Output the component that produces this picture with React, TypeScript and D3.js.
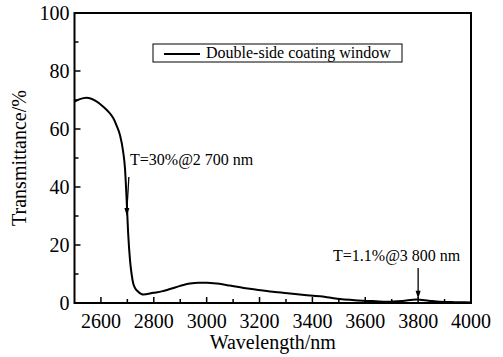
import React from "react";
import * as d3 from "d3";

const wavelength = [2500, 2520, 2546, 2580, 2609, 2630, 2647, 2660, 2672, 2684, 2691, 2697, 2703, 2710, 2716, 2722, 2730, 2741, 2760, 2798, 2830, 2861, 2900, 2937, 2970, 3000, 3040, 3088, 3140, 3189, 3250, 3315, 3370, 3428, 3470, 3504, 3550, 3591, 3640, 3680, 3740, 3794, 3840, 3882, 3940, 4000];
const transmittance = [69.4, 70.3, 70.8, 69.7, 67.7, 65.8, 63.7, 61.0, 57.9, 52.2, 46.4, 36, 24, 14.8, 10, 6.8, 5.0, 3.9, 2.9, 3.5, 4.0, 4.8, 5.9, 6.7, 7.0, 7.0, 6.7, 6.0, 5.2, 4.6, 3.9, 3.3, 2.8, 2.3, 1.8, 1.4, 1.05, 0.8, 0.6, 0.45, 0.7, 1.2, 0.8, 0.45, 0.3, 0.2];
const xMajorTicks = [2600, 2800, 3000, 3200, 3400, 3600, 3800, 4000];
const xMinorTicks = [2700, 2900, 3100, 3300, 3500, 3700, 3900];
const yMajorTicks = [0, 20, 40, 60, 80, 100];
const yMinorTicks = [10, 30, 50, 70, 90];
const legendLabel = "Double-side coating window";
const xTitle = "Wavelength/nm";
const yTitle = "Transmittance/%";
const annotations = [
  { text: "T=30%@2 700 nm", wl: 2700, t: 30 },
  { text: "T=1.1%@3 800 nm", wl: 3800, t: 1.1 },
];

const W = 503, H = 357;
const L = 74.5, R = 471, T = 13, B = 303;
const font = "'Liberation Serif', 'Times New Roman', serif";

export default function App() {
  const x = d3.scaleLinear().domain([2500, 4000]).range([L, R]);
  const y = d3.scaleLinear().domain([0, 100]).range([B, T]);
  const pts = wavelength.map((w, i) => [w, transmittance[i]] as [number, number]);
  const line = d3.line<[number, number]>().x(d => x(d[0])).y(d => y(d[1])).curve(d3.curveMonotoneX);

  return (
    <svg width={W} height={H} style={{ position: "absolute", left: 0, top: 0, background: "#fff" }} fontFamily={font}>
      <rect x={0} y={0} width={W} height={H} fill="#fff" />
      <path d={line(pts) || ""} fill="none" stroke="#000" strokeWidth={2} />
      <rect x={L} y={T} width={R - L} height={B - T} fill="none" stroke="#000" strokeWidth={2} />
      {yMajorTicks.map(v => (
        <g key={"ym" + v}>
          <line x1={L} x2={L + 6} y1={y(v)} y2={y(v)} stroke="#000" strokeWidth={1.5} />
          <text x={L - 5} y={y(v) + 7} textAnchor="end" fontSize={20}>{v}</text>
        </g>
      ))}
      {yMinorTicks.map(v => (
        <line key={"yn" + v} x1={L} x2={L + 4} y1={y(v)} y2={y(v)} stroke="#000" strokeWidth={1.5} />
      ))}
      {xMajorTicks.map(v => (
        <g key={"xm" + v}>
          <line x1={x(v)} x2={x(v)} y1={B} y2={B - 6} stroke="#000" strokeWidth={1.5} />
          <text x={x(v)} y={B + 25} textAnchor="middle" fontSize={20}>{v}</text>
        </g>
      ))}
      {xMinorTicks.map(v => (
        <line key={"xn" + v} x1={x(v)} x2={x(v)} y1={B} y2={B - 4} stroke="#000" strokeWidth={1.5} />
      ))}
      <text x={(L + R) / 2} y={349} textAnchor="middle" fontSize={20}>{xTitle}</text>
      <text transform={`translate(26,${(T + B) / 2}) rotate(-90)`} textAnchor="middle" fontSize={20}>{yTitle}</text>
      <rect x={153} y={44} width={249} height={18} fill="#fff" stroke="#000" strokeWidth={1} />
      <line x1={164} x2={200} y1={54} y2={54} stroke="#000" strokeWidth={2} />
      <text x={206} y={58} fontSize={16}>{legendLabel}</text>
      <text x={130} y={165} fontSize={16}>{annotations[0].text}</text>
      <line x1={x(annotations[0].wl) + 1.5} y1={177} x2={x(annotations[0].wl) - 0.5} y2={y(annotations[0].t) - 6} stroke="#000" strokeWidth={1.3} />
      <path d={`M${x(annotations[0].wl) - 0.5},${y(annotations[0].t)} l-2.5,-8 l5,0 z`} fill="#000" />
      <text x={333} y={261} fontSize={16}>{annotations[1].text}</text>
      <line x1={x(annotations[1].wl)} y1={268} x2={x(annotations[1].wl)} y2={y(annotations[1].t) - 7} stroke="#000" strokeWidth={1.3} />
      <path d={`M${x(annotations[1].wl)},${y(annotations[1].t) - 1} l-2.5,-8 l5,0 z`} fill="#000" />
    </svg>
  );
}
